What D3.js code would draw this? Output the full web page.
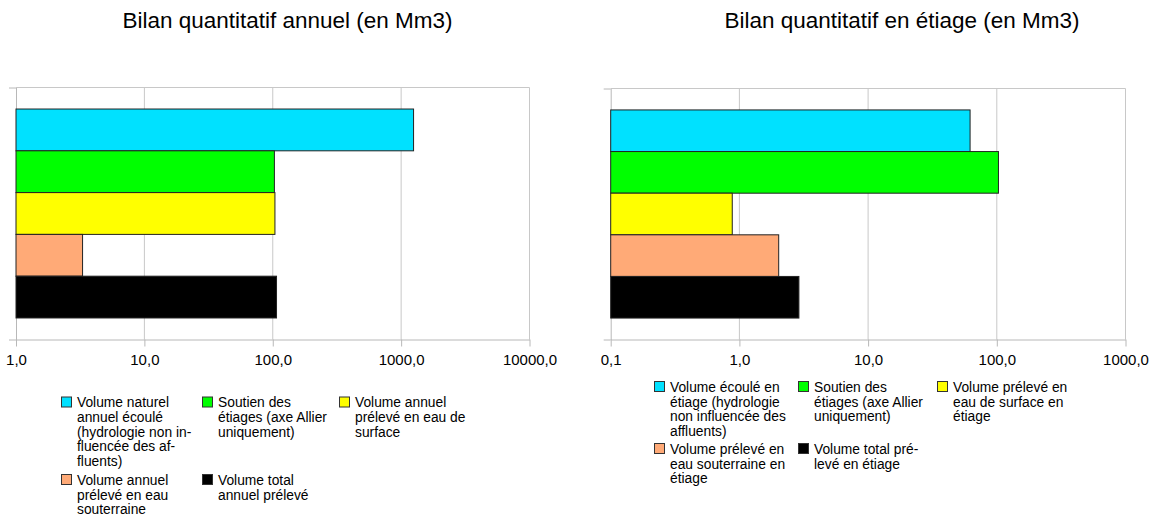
<!DOCTYPE html>
<html>
<head>
<meta charset="utf-8">
<script src="https://cdn.jsdelivr.net/npm/d3@7"></script>
<style>
  html, body { margin: 0; padding: 0; background: #fff; }
  svg { display: block; font-family: "Liberation Sans", Arial, sans-serif; }
</style>
</head>
<body>
<svg id="chart" width="1156" height="517"></svg>
<script>
// Series colours (shared by both panels)
const seriesColors = ["#00e1ff", "#00ff00", "#ffff00", "#ffaa77", "#000000"];

// Annual balance (Mm3)
const annualTitle = "Bilan quantitatif annuel (en Mm3)";
const annualValues = [1250, 103, 104, 3.3, 107];
const annualTicks = [1, 10, 100, 1000, 10000];
const annualLegend = [
  ["Volume naturel", "annuel écoulé", "(hydrologie non in-", "fluencée des af-", "fluents)"],
  ["Soutien des", "étiages (axe Allier", "uniquement)"],
  ["Volume annuel", "prélevé en eau de", "surface"],
  ["Volume annuel", "prélevé en eau", "souterraine"],
  ["Volume total", "annuel prélevé"]
];

// Low-water balance (Mm3)
const etiageTitle = "Bilan quantitatif en étiage (en Mm3)";
const etiageValues = [62, 103, 0.88, 2.02, 2.9];
const etiageTicks = [0.1, 1, 10, 100, 1000];
const etiageLegend = [
  ["Volume écoulé en", "étiage (hydrologie", "non influencée des", "affluents)"],
  ["Soutien des", "étiages (axe Allier", "uniquement)"],
  ["Volume prélevé en", "eau de surface en", "étiage"],
  ["Volume prélevé en", "eau souterraine en", "étiage"],
  ["Volume total pré-", "levé en étiage"]
];

const svg = d3.select("#chart");
const fmt = v => d3.format(".1f")(v).replace(".", ",");

function drawPanel(cfg) {
  const g = svg.append("g");
  const x = d3.scaleLog().domain([cfg.ticks[0], cfg.ticks[cfg.ticks.length - 1]])
    .range([cfg.left, cfg.right]);
  const top = cfg.top, bottom = cfg.bottom;

  // Title
  g.append("text")
    .attr("x", cfg.titleX).attr("y", 27.5)
    .attr("text-anchor", "middle")
    .attr("font-size", 22.5).attr("fill", "#000")
    .text(cfg.title);

  // Vertical gridlines at each decade
  g.selectAll("line.grid").data(cfg.ticks.slice(1)).join("line")
    .attr("class", "grid")
    .attr("x1", d => x(d)).attr("x2", d => x(d))
    .attr("y1", top).attr("y2", bottom)
    .attr("stroke", "#c8c8c8").attr("stroke-width", 1);

  // Top border line
  g.append("line")
    .attr("x1", cfg.left).attr("x2", cfg.right)
    .attr("y1", top).attr("y2", top)
    .attr("stroke", "#c8c8c8");

  // Category axis (left) with boundary ticks
  const yAxisScale = d3.scaleLinear().domain([0, 1]).range([bottom, top]);
  g.append("g")
    .attr("transform", `translate(${cfg.left},0)`)
    .call(d3.axisLeft(yAxisScale).tickValues([0, 1]).tickSize(7).tickSizeOuter(0).tickFormat(""))
    .call(a => a.selectAll("path,line").attr("stroke", "#b8b8b8"));

  // Bars: one category, five series as adjacent bands
  const outer = d3.scaleBand().domain([0]).range([top, bottom]).paddingOuter(0.103);
  const y = d3.scaleBand().domain(d3.range(cfg.values.length))
    .range([outer(0), outer(0) + outer.bandwidth()]);
  g.selectAll("rect.bar").data(cfg.values).join("rect")
    .attr("class", "bar")
    .attr("x", x(cfg.ticks[0]))
    .attr("y", (d, i) => y(i))
    .attr("width", d => x(d) - x(cfg.ticks[0]))
    .attr("height", y.bandwidth())
    .attr("fill", (d, i) => seriesColors[i])
    .attr("stroke", "#222").attr("stroke-width", 1);

  // Value axis (bottom)
  g.append("g")
    .attr("transform", `translate(0,${bottom})`)
    .call(d3.axisBottom(x).tickValues(cfg.ticks).tickSize(7).tickSizeOuter(0)
      .tickPadding(8).tickFormat(fmt))
    .call(a => a.selectAll("path,line").attr("stroke", "#b8b8b8"))
    .call(a => a.selectAll("text").attr("font-size", 15).attr("fill", "#000")
      .attr("font-family", "Liberation Sans, Arial, sans-serif"));

  // Legend
  const lg = g.append("g").attr("font-size", 13.8).attr("fill", "#000");
  cfg.legend.forEach((lines, i) => {
    const col = i < 3 ? i : i - 3;
    const rowY = i < 3 ? cfg.legendRow1 : cfg.legendRow2;
    const sx = cfg.legendCols[col];
    lg.append("rect")
      .attr("x", sx + 0.5).attr("y", rowY - 5.5)
      .attr("width", 10).attr("height", 10)
      .attr("fill", seriesColors[i]).attr("stroke", "#333").attr("stroke-width", 1);
    const t = lg.append("text").attr("x", sx + 16).attr("y", rowY);
    lines.forEach((s, k) => {
      t.append("tspan").attr("x", sx + 16).attr("dy", k === 0 ? "0.35em" : 14.7).text(s);
    });
  });
}

drawPanel({
  title: annualTitle, titleX: 287.5, values: annualValues, ticks: annualTicks,
  left: 16, right: 529.5, top: 87.5, bottom: 339.5,
  legend: annualLegend, legendCols: [61, 202, 339], legendRow1: 402.5, legendRow2: 480
});

drawPanel({
  title: etiageTitle, titleX: 902, values: etiageValues, ticks: etiageTicks,
  left: 610.7, right: 1125.5, top: 88.5, bottom: 339.5,
  legend: etiageLegend, legendCols: [654, 798, 937], legendRow1: 387, legendRow2: 449
});
</script>
</body>
</html>
